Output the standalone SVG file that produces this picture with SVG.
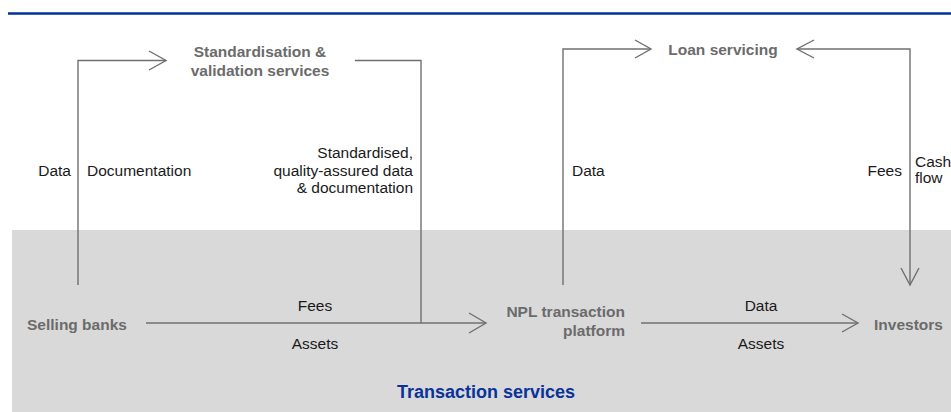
<svg xmlns="http://www.w3.org/2000/svg" width="951" height="412" viewBox="0 0 951 412">
<style>
  .node { font-family: "Liberation Sans", Arial, sans-serif; font-size: 15.5px; font-weight: bold; fill: #6b6b6b; }
  .lbl { font-family: "Liberation Sans", Arial, sans-serif; font-size: 15.5px; fill: #1a1a1a; }
  .title { font-family: "Liberation Sans", Arial, sans-serif; font-size: 18px; font-weight: bold; fill: #0a3399; }
  .con { fill: none; stroke: #707070; stroke-width: 1.4; }
  .head { fill: none; stroke: #707070; stroke-width: 1.4; stroke-linejoin: miter; }
</style>
<rect x="0" y="0" width="951" height="412" fill="#ffffff"/>
<line x1="8" y1="13.5" x2="951" y2="13.5" stroke="#003399" stroke-width="2.5"/>
<rect id="band" x="12" y="230" width="939" height="182" fill="#d9d9d9"/>
<text class="title" x="486" y="397.5" text-anchor="middle">Transaction services</text>

<g id="connectors">
  <path class="con" d="M78,285 V60.5 H166"/>
  <polyline class="head" points="149,51 166,60.5 149,70"/>
  <path class="con" d="M355,60.5 H421 V323"/>
  <path class="con" d="M146,323 H486"/>
  <polyline class="head" points="469,313 486,323 469,333"/>
  <path class="con" d="M641,323 H858"/>
  <polyline class="head" points="842,314 858,323 842,332"/>
  <path class="con" d="M563,285 V49 H651"/>
  <polyline class="head" points="635,40 651,49 635,58"/>
  <path class="con" d="M910,285 V49 H797"/>
  <polyline class="head" points="814,40 797,49 814,58"/>
  <polyline class="head" points="901,268 910,285 919,268"/>
</g>

<g id="labels">
  <text class="lbl" x="71" y="176" text-anchor="end">Data</text>
  <text class="lbl" x="87" y="176">Documentation</text>
  <text class="lbl" x="413" y="158" text-anchor="end">Standardised,</text>
  <text class="lbl" x="413" y="175.5" text-anchor="end">quality-assured data</text>
  <text class="lbl" x="413" y="193" text-anchor="end">&amp; documentation</text>
  <text class="lbl" x="572" y="176">Data</text>
  <text class="lbl" x="902" y="176" text-anchor="end">Fees</text>
  <text class="lbl" x="915" y="167">Cash</text>
  <text class="lbl" x="915" y="183">flow</text>
  <text class="lbl" x="315" y="311" text-anchor="middle">Fees</text>
  <text class="lbl" x="315" y="349" text-anchor="middle">Assets</text>
  <text class="lbl" x="761" y="311" text-anchor="middle">Data</text>
  <text class="lbl" x="761" y="349" text-anchor="middle">Assets</text>
</g>

<g id="standardisation">
  <text class="node" x="260" y="57" text-anchor="middle">Standardisation &amp;</text>
  <text class="node" x="260" y="76" text-anchor="middle">validation services</text>
</g>
<g id="loan-servicing">
  <text class="node" x="723" y="55" text-anchor="middle">Loan servicing</text>
</g>
<g id="selling-banks">
  <text class="node" x="27" y="330">Selling banks</text>
</g>
<g id="npl-platform">
  <text class="node" x="625" y="317" text-anchor="end">NPL transaction</text>
  <text class="node" x="625" y="335.5" text-anchor="end">platform</text>
</g>
<g id="investors">
  <text class="node" x="874" y="330">Investors</text>
</g>
</svg>
